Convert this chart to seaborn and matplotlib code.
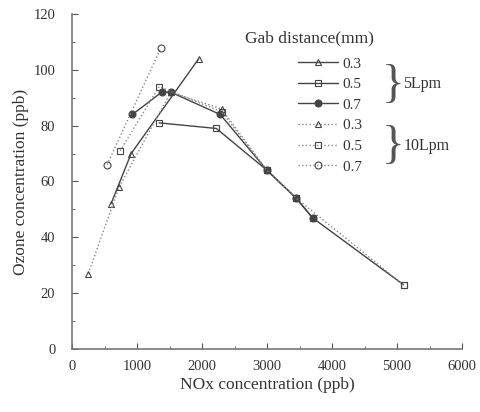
import numpy as np
import pandas as pd
import seaborn as sns
import matplotlib.pyplot as plt

# NOx (ppb) vs ozone (ppb)
nox_5_03 = [600, 910, 1950]
o3_5_03 = [52, 70, 104]
nox_5_05 = [1340, 2220, 3000, 3450, 3700, 5100]
o3_5_05 = [81, 79, 64, 54, 47, 23]
nox_5_07 = [930, 1380, 1520, 2280, 3000, 3450, 3700]
o3_5_07 = [84, 92, 92, 84, 64, 54, 47]
nox_10_03 = [250, 725, 1520, 2300, 3000]
o3_10_03 = [27, 58, 92, 86, 64]
nox_10_05 = [740, 1340, 2300, 3000, 3450, 5100]
o3_10_05 = [71, 94, 85, 64, 54, 23]
nox_10_07 = [540, 1370]
o3_10_07 = [66, 108]

series = [
    ("0.3", nox_5_03, o3_5_03, "^", "-", "none"),
    ("0.5", nox_5_05, o3_5_05, "s", "-", "none"),
    ("0.7", nox_5_07, o3_5_07, "o", "-", "#444444"),
    ("0.3 ", nox_10_03, o3_10_03, "^", ":", "none"),
    ("0.5 ", nox_10_05, o3_10_05, "s", ":", "none"),
    ("0.7 ", nox_10_07, o3_10_07, "o", ":", "none"),
]

sns.set_style("white")
plt.rcParams['font.family'] = ['Liberation Serif', 'DejaVu Serif']

fig = plt.figure(figsize=(4.8, 4.12), dpi=100)
ax = fig.add_axes([0.15, 0.153, 0.8125, 0.813])

handles = []
for lab, xs, ys, mk, ls, fc in series:
    df = pd.DataFrame({"x": xs, "y": ys})
    col = "#444444" if ls == "-" else "#888888"
    sns.lineplot(data=df, x="x", y="y", ax=ax, sort=False, color=col,
                 linestyle=ls, linewidth=1.0, marker=mk, markersize=5,
                 markerfacecolor=fc, markeredgecolor="#444444", markeredgewidth=0.8)
    handles.append(ax.lines[-1])

ax.set_xlim(0, 6000)
ax.set_ylim(0, 120)
ax.set_xticks(np.arange(0, 6001, 1000))
ax.set_xticks(np.arange(0, 6001, 500), minor=True)
ax.set_yticks(np.arange(0, 121, 20))
ax.set_yticks(np.arange(0, 121, 10), minor=True)
ax.tick_params(axis="both", which="both", direction="in", colors="#555555",
               labelcolor="#333333", labelsize=10.5)
ax.tick_params(which="major", length=4, width=0.8, bottom=True, left=True)
ax.tick_params(which="minor", length=2.5, width=0.6, bottom=True, left=True)
ax.tick_params(axis="x", pad=8)
ax.tick_params(axis="y", pad=12)
for s in ["top", "right"]:
    ax.spines[s].set_visible(False)
for s in ["left", "bottom"]:
    ax.spines[s].set_color("#777777")
    ax.spines[s].set_linewidth(1.2)

ax.set_xlabel("NOx concentration (ppb)", fontsize=12.5, color="#333333", labelpad=3)
ax.set_ylabel("Ozone concentration (ppb)", fontsize=12.5, color="#333333", labelpad=3)

leg = ax.legend(handles, [s[0] for s in series], loc="upper left",
                bbox_to_anchor=(0.565, 0.89), frameon=False, fontsize=11,
                handlelength=2.6, labelspacing=0.45, handletextpad=0.3,
                borderaxespad=0)
for t in leg.get_texts():
    t.set_color("#333333")

fig.text(0.51, 0.908, "Gab distance(mm)", fontsize=12.5, color="#333333", va="center")
fig.text(0.795, 0.793, "}", fontsize=34, color="#555555", va="center",
         fontweight="light")
fig.text(0.795, 0.643, "}", fontsize=34, color="#555555", va="center",
         fontweight="light")
fig.text(0.84, 0.796, "5Lpm", fontsize=11.5, color="#333333", va="center")
fig.text(0.84, 0.646, "10Lpm", fontsize=11.5, color="#333333", va="center")

fig.savefig("out.png", dpi=100)
